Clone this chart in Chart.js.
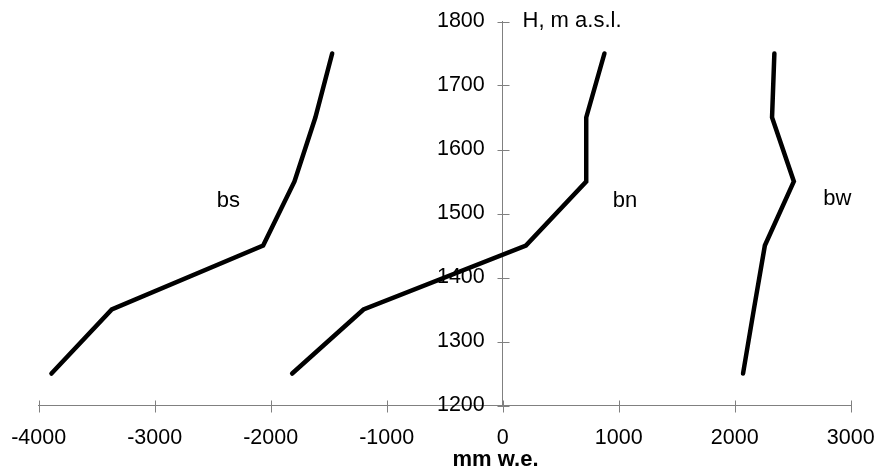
<!DOCTYPE html>
<html>
<head>
<meta charset="utf-8">
<script src="https://cdn.jsdelivr.net/npm/chart.js@4.4.1/dist/chart.umd.min.js"></script>
<style>
  html, body { margin: 0; padding: 0; background: #fff; }
</style>
</head>
<body>
<canvas id="balanceChart" width="878" height="470"></canvas>
<script>
// Altitude bands (m a.s.l.) and balance values (mm w.e.)
const heights = [1250, 1350, 1450, 1550, 1650, 1750];
const bsValues = [-3890, -3370, -2065, -1795, -1615, -1470];
const bnValues = [-1815, -1200, 200, 720, 720, 877];
const bwValues = [2072, 2165, 2260, 2510, 2322, 2342];

// Axis ticks
const xTicks = [-4000, -3000, -2000, -1000, 0, 1000, 2000, 3000];
const yTicks = [1200, 1300, 1400, 1500, 1600, 1700, 1800];

// Series names and where their labels sit (data units)
const seriesNames = ['bs', 'bn', 'bw'];
const labelAnchors = [[-2365, 1520], [1055, 1520], [2884, 1522]];

const axisColor = '#808080';
const fontFamily = "'Liberation Sans', Arial, sans-serif";

function toPoints(values) {
    return values.map((v, i) => ({ x: v, y: heights[i] }));
}

// Crossing tick marks and the free text labels
const annotate = {
    id: 'annotate',
    afterDraw(chart) {
        const c = chart.ctx;
        const xs = chart.scales.x, ys = chart.scales.y;
        const x0 = Math.round(xs.getPixelForValue(0)) + 0.5;
        const y0 = Math.round(ys.getPixelForValue(1200)) + 0.5;
        c.save();
        c.strokeStyle = axisColor;
        c.lineWidth = 1;
        c.beginPath();
        xTicks.forEach(v => {
            const px = Math.round(xs.getPixelForValue(v)) + 0.5;
            c.moveTo(px, y0 - 6);
            c.lineTo(px, y0 + 6);
        });
        yTicks.forEach(v => {
            const py = Math.round(ys.getPixelForValue(v)) + 0.5;
            c.moveTo(x0 - 6, py);
            c.lineTo(x0 + 6, py);
        });
        c.stroke();

        c.fillStyle = '#000';
        c.textBaseline = 'middle';
        c.font = '22px ' + fontFamily;
        c.textAlign = 'center';
        seriesNames.forEach((name, i) => {
            const a = labelAnchors[i];
            c.fillText(name, xs.getPixelForValue(a[0]), ys.getPixelForValue(a[1]));
        });

        c.textAlign = 'left';
        c.fillText('H, m a.s.l.', x0 + 19, ys.getPixelForValue(1800) - 1);

        c.font = 'bold 22px ' + fontFamily;
        c.textAlign = 'center';
        c.fillText('mm w.e.', x0 - 8, y0 + 53);
        c.restore();
    }
};

const lineStyle = {
    showLine: true,
    borderColor: '#000',
    backgroundColor: '#000',
    borderWidth: 4.5,
    borderCapStyle: 'round',
    borderJoinStyle: 'miter',
    pointRadius: 0,
    pointHoverRadius: 0,
    fill: false,
    tension: 0
};

// invisible tick marks only used to push the labels away from the axes
const hiddenTicks = (len) => ({
    display: true,
    drawOnChartArea: false,
    drawTicks: true,
    tickLength: len,
    color: 'rgba(0,0,0,0)',
    tickColor: 'rgba(0,0,0,0)'
});

const plainNumber = (value) => String(value);
// a y axis placed at x = 0 gets no label offset, so pad the text itself
const paddedNumber = (value) => String(value) + '\u2007 ';

const ctx = document.getElementById('balanceChart').getContext('2d');
const balanceChart = new Chart(ctx, {
    type: 'scatter',
    data: {
        datasets: [
            Object.assign({ label: seriesNames[0], data: toPoints(bsValues) }, lineStyle),
            Object.assign({ label: seriesNames[1], data: toPoints(bnValues) }, lineStyle),
            Object.assign({ label: seriesNames[2], data: toPoints(bwValues) }, lineStyle)
        ]
    },
    options: {
        responsive: false,
        animation: false,
        layout: {
            padding: { left: 38.7, right: 27.3, top: 21.5, bottom: 64.5 }
        },
        plugins: {
            legend: { display: false },
            tooltip: { enabled: false },
            title: { display: false }
        },
        scales: {
            x: {
                type: 'linear',
                min: -4000,
                max: 3000,
                position: { y: 1200 },
                grid: hiddenTicks(20),
                border: { display: true, color: axisColor, width: 1 },
                afterBuildTicks: (scale) => { scale.ticks = xTicks.map(v => ({ value: v })); },
                ticks: {
                    padding: 0,
                    color: '#000',
                    maxRotation: 0,
                    autoSkip: false,
                    callback: plainNumber,
                    font: { family: fontFamily, size: 21.5 }
                }
            },
            y: {
                type: 'linear',
                min: 1200,
                max: 1800,
                position: { x: 0 },
                grid: hiddenTicks(19),
                border: { display: true, color: axisColor, width: 1 },
                afterBuildTicks: (scale) => { scale.ticks = yTicks.map(v => ({ value: v })); },
                ticks: {
                    padding: 0,
                    color: '#000',
                    autoSkip: false,
                    callback: paddedNumber,
                    font: { family: fontFamily, size: 21.5 }
                }
            }
        }
    },
    plugins: [annotate]
});
</script>
</body>
</html>
